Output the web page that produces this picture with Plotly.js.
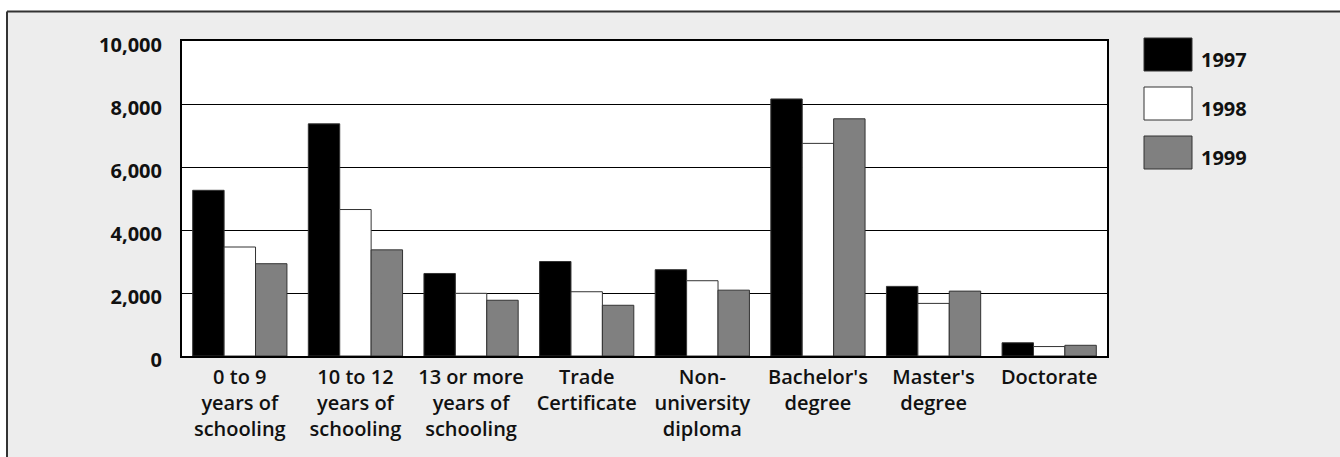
<!DOCTYPE html>
<html>
<head>
<meta charset="utf-8">
<script src="https://cdn.plot.ly/plotly-3.0.1.min.js"></script>
<style>html,body{margin:0;padding:0;background:#fff;}#chart{width:1340px;height:457px;}</style>
</head>
<body>
<div id="chart"></div>
<script>
const categories = [
  "0 to 9<br>years of<br>schooling",
  "10 to 12<br>years of<br>schooling",
  "13 or more<br>years of<br>schooling",
  "Trade<br>Certificate",
  "Non-<br>university<br>diploma",
  "Bachelor's<br>degree",
  "Master's<br>degree",
  "Doctorate"
];
const seriesNames = ["1997", "1998", "1999"];
const values1997 = [5260, 7370, 2620, 3000, 2740, 8160, 2210, 420];
const values1998 = [3460, 4650, 1990, 2040, 2390, 6750, 1670, 300];
const values1999 = [2930, 3370, 1770, 1610, 2090, 7530, 2060, 340];
const yTicks = [0, 2000, 4000, 6000, 8000, 10000];

const seriesValues = [values1997, values1998, values1999];
const seriesColors = ["#000000", "#ffffff", "#808080"];

const W = 1340, H = 457;
const M = {l: 182, r: 233, t: 41, b: 101};
const PW = W - M.l - M.r, PH = H - M.t - M.b;
const px = x => (x - M.l) / PW;
const py = y => (H - M.b - y) / PH;

const FONT = "'Open Sans', 'Noto Sans', sans-serif";

const traces = seriesNames.map((name, i) => ({
  type: "bar",
  name: name,
  x: categories,
  y: seriesValues[i],
  marker: {color: seriesColors[i], line: {color: "#333333", width: 1}},
  showlegend: false,
  hoverinfo: "x+y+name"
}));

const shapes = [
  {type: "rect", xref: "paper", yref: "paper", x0: px(-5), x1: px(W + 5), y0: py(11), y1: py(-5), fillcolor: "#ffffff", line: {width: 0}, layer: "above"},
  {type: "rect", xref: "paper", yref: "paper", x0: px(-5), x1: px(7), y0: py(H + 5), y1: py(-5), fillcolor: "#ffffff", line: {width: 0}, layer: "above"},
  {type: "line", xref: "paper", yref: "paper", x0: px(7), x1: px(W + 5), y0: py(11.5), y1: py(11.5), line: {color: "#333333", width: 2}, layer: "above"},
  {type: "line", xref: "paper", yref: "paper", x0: px(7), x1: px(7), y0: py(11.5), y1: py(H + 5), line: {color: "#333333", width: 2}, layer: "above"}
];
const annotations = [];
const legTop = [38, 87, 136];
seriesNames.forEach((name, i) => {
  const t = legTop[i];
  shapes.push({type: "rect", xref: "paper", yref: "paper", x0: px(1144), x1: px(1192), y0: py(t + 33), y1: py(t), fillcolor: seriesColors[i], line: {color: "#333333", width: 1}, layer: "above"});
  annotations.push({xref: "paper", yref: "paper", x: px(1199), y: py(t + 21.5), xanchor: "left", yanchor: "middle", text: name, showarrow: false, font: {family: FONT, size: 20, color: "#111", weight: 700}});
});

const layout = {
  width: W, height: H,
  margin: M,
  paper_bgcolor: "#ededed",
  plot_bgcolor: "#ffffff",
  barmode: "group",
  bargap: 0.185,
  bargroupgap: 0,
  showlegend: false,
  font: {family: FONT, color: "#111"},
  xaxis: {
    type: "category",
    showline: true, linecolor: "#000", linewidth: 2, mirror: true,
    showgrid: false, ticks: "",
    ticklabelstandoff: 2,
    tickfont: {family: FONT, size: 20, color: "#111", weight: 600},
    fixedrange: true
  },
  yaxis: {
    range: [0, 10000],
    tickvals: yTicks,
    tickformat: ",d",
    showline: true, linecolor: "#000", linewidth: 2, mirror: true,
    showgrid: true, gridcolor: "#000", gridwidth: 1,
    zeroline: false,
    ticks: "",
    ticklabelstandoff: 14,
    ticklabelshift: 4,
    tickfont: {family: FONT, size: 20, color: "#111", weight: 700},
    fixedrange: true
  },
  shapes: shapes,
  annotations: annotations
};

Plotly.newPlot("chart", traces, layout, {displayModeBar: false, staticPlot: true});
</script>
</body>
</html>
